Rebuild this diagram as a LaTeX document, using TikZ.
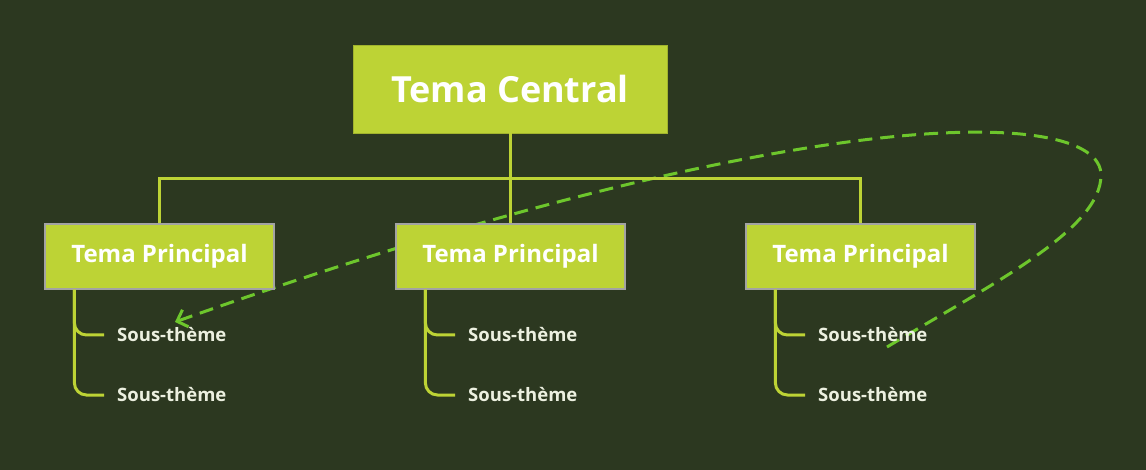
\documentclass[tikz,border=0pt]{standalone}
\usepackage{fontspec}
\setmainfont{Open Sans}
\usetikzlibrary{arrows.meta}
\definecolor{fond}{HTML}{2C3820}
\definecolor{citron}{HTML}{BDD335}
\definecolor{vertlien}{HTML}{6DC62C}
\definecolor{bordgris}{HTML}{A3A3A3}
\definecolor{textesous}{HTML}{ECF0E0}
\begin{document}
\begin{tikzpicture}[x=1pt, y=-1pt,
    central/.style={fill=citron, draw=citron!85!black, line width=0.8pt,
      minimum width=314, minimum height=88, text=white,
      font=\bfseries\fontsize{36}{36}\selectfont},
    principal/.style={fill=citron, draw=bordgris, line width=1.2pt,
      minimum width=229, minimum height=65, text=white,
      font=\bfseries\fontsize{24}{24}\selectfont},
    sous/.style={anchor=west, inner sep=0pt, text=textesous,
      font=\bfseries\fontsize{18.5}{18.5}\selectfont},
    lien/.style={citron, line width=3pt},
    fleche/.style={vertlien, line width=3pt, dash pattern=on 14pt off 8pt,
      -{Straight Barb[length=9pt, width=18pt, line width=3pt]}}]
    % fond
    \fill[fond] (0,0) rectangle (1146,470);

    % sujet central
    \node[central] (centre) at (510,89) {Tema Central};

    % lien en pointillés, dessiné sous les noeuds
    \coordinate (depart) at (887,347);
    \coordinate (boucle) at (1101,175);
    \coordinate (arrivee) at (175,322);
    \draw[fleche] (depart) .. controls (990,285) and (1101,230) .. (boucle)
        .. controls (1101,105) and (800,100) .. (arrivee);

    % sujets principaux et sous-thèmes
    \foreach \i/\x in {1/159.5, 2/510.5, 3/860.5} {
        \node[principal] (p\i) at (\x,256.5) {Tema Principal};
        \node[sous] (s\i a) at (\x-42.5,335) {Sous-thème};
        \node[sous] (s\i b) at (\x-42.5,395) {Sous-thème};
        \draw[lien, rounded corners=12pt] ([xshift=30]p\i.south west) |- ([xshift=-13]s\i a.west);
        \draw[lien, rounded corners=12pt] ([xshift=30]p\i.south west) |- ([xshift=-13]s\i b.west);
        \draw[lien] (centre.south) -- ++(0,45) -| (p\i.north);
    }
\end{tikzpicture}
\end{document}
